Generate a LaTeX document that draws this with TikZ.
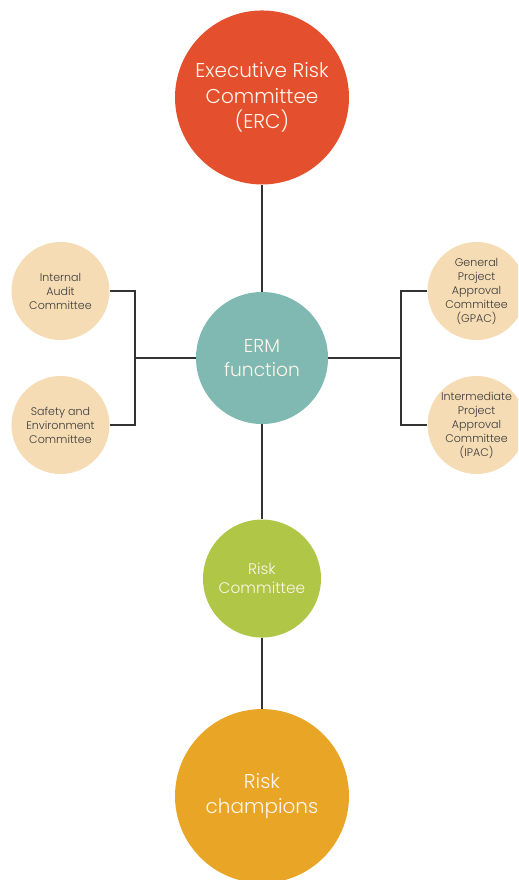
\documentclass[tikz,border=0pt]{standalone}
\usepackage{tikz}
\usetikzlibrary{positioning}
\usepackage{fontspec}
\setmainfont{Poppins Light}

\definecolor{ercred}{HTML}{E4502E}
\definecolor{ermteal}{HTML}{80B8B2}
\definecolor{rcgreen}{HTML}{AFC646}
\definecolor{champorange}{HTML}{E9A626}
\definecolor{sidetan}{HTML}{F5DCB4}
\definecolor{linkgray}{HTML}{333333}
\definecolor{sidetext}{HTML}{3A3A3A}

\begin{document}
\begin{tikzpicture}[
    bubble/.style={circle, inner sep=0pt, align=center, text=white!92!orange},
    side/.style={circle, inner sep=0pt, align=center, minimum size=73.5pt, fill=sidetan,
        text=sidetext, font=\fontsize{8.3}{10.5}\selectfont},
    link/.style={draw=linkgray, line width=1.4pt}
]
    \useasboundingbox (0,0) rectangle (388.5pt,-660pt);
    \clip (0,0) rectangle (388.5pt,-660pt);

    \node [bubble, fill=ermteal, minimum size=99pt, font=\fontsize{14}{18}\selectfont]
        (erm) at (196.5pt,-268.5pt) {ERM\\function};
    \node [bubble, fill=ercred, minimum size=130.5pt, font=\fontsize{15}{19}\selectfont,
        above=80.25pt of erm] (erc) {Executive Risk\\Committee\\(ERC)};
    \node [bubble, fill=rcgreen, minimum size=88.5pt, font=\fontsize{11.5}{14}\selectfont,
        below=71.25pt of erm] (rc) {Risk\\Committee};
    \node [bubble, fill=champorange, minimum size=130.5pt, font=\fontsize{15}{19}\selectfont,
        below=53.25pt of rc] (champ) {Risk\\champions};

    \node [side, left=64.5pt of erm, yshift=50.25pt] (audit) {Internal\\Audit\\Committee};
    \node [side, left=64.5pt of erm, yshift=-50.25pt] (safety) {Safety and\\Environment\\Committee};
    \node [side, right=74.25pt of erm, yshift=50.25pt] (gpac) {General\\Project\\Approval\\Committee\\(GPAC)};
    \node [side, right=74.25pt of erm, yshift=-50.25pt] (ipac) {Intermediate\\Project\\Approval\\Committee\\(IPAC)};

    \coordinate [left=45.75pt of erm.west] (lj);
    \coordinate [right=54.75pt of erm.east] (rj);

    \draw [link] (erc) -- (erm) -- (rc) -- (champ);
    \draw [link] (erm) -- (lj) (audit) -| (lj) |- (safety);
    \draw [link] (erm) -- (rj) (gpac) -| (rj) |- (ipac);
\end{tikzpicture}
\end{document}
